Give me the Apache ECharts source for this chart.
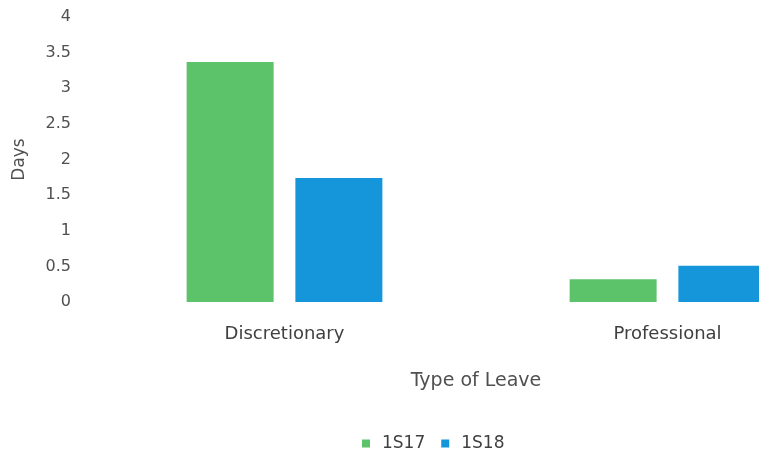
<!DOCTYPE html>
<html>
<head>
<meta charset="utf-8">
<script src="https://cdn.jsdelivr.net/npm/echarts@6/dist/echarts.min.js"></script>
<style>
  html, body { margin: 0; padding: 0; background: #ffffff; }
  #chart { width: 759px; height: 453px; }
</style>
</head>
<body>
<div id="chart"></div>
<script>
// Leave categories and average days taken per semester
const categories = ['Discretionary', 'Professional'];
const series1S17 = [3.37, 0.32];
const series1S18 = [1.74, 0.51];
const yTicks = { min: 0, max: 4, interval: 0.5 };

const textColor = '#505050';
const font = 'DejaVu Sans';

const chart = echarts.init(document.getElementById('chart'));
chart.setOption({
  animation: false,
  backgroundColor: '#ffffff',
  // plot area runs past the right edge of the canvas, clipping the last bar
  grid: { left: 93, width: 766, top: 17, bottom: 151, containLabel: false, outerBoundsMode: 'none' },
  legend: {
    data: ['1S17', '1S18'],
    left: 357,
    top: 430,
    itemWidth: 8,
    itemHeight: 8,
    itemGap: 16,
    icon: 'rect',
    textStyle: { color: '#404040', fontSize: 17, fontFamily: font, padding: [0, 0, 0, 7] }
  },
  xAxis: {
    type: 'category',
    data: categories,
    name: 'Type of Leave',
    nameLocation: 'middle',
    nameGap: 70,
    nameTextStyle: { color: textColor, fontSize: 19, fontFamily: font },
    axisLine: { show: false },
    axisTick: { show: false },
    axisLabel: { color: '#404040', fontSize: 18, fontFamily: font, margin: 23 }
  },
  yAxis: {
    type: 'value',
    min: yTicks.min,
    max: yTicks.max,
    interval: yTicks.interval,
    name: 'Days',
    nameLocation: 'middle',
    nameGap: 65,
    nameTextStyle: { color: textColor, fontSize: 17, fontFamily: font },
    axisLine: { show: false },
    axisTick: { show: false },
    splitLine: { show: false },
    axisLabel: { color: textColor, fontSize: 16, fontFamily: font, margin: 22 }
  },
  series: [
    {
      name: '1S17',
      type: 'bar',
      data: series1S17,
      barWidth: 87,
      barGap: '25%',
      itemStyle: { color: '#5DC36B' }
    },
    {
      name: '1S18',
      type: 'bar',
      data: series1S18,
      barWidth: 87,
      itemStyle: { color: '#1596DB' }
    }
  ]
});
</script>
</body>
</html>
